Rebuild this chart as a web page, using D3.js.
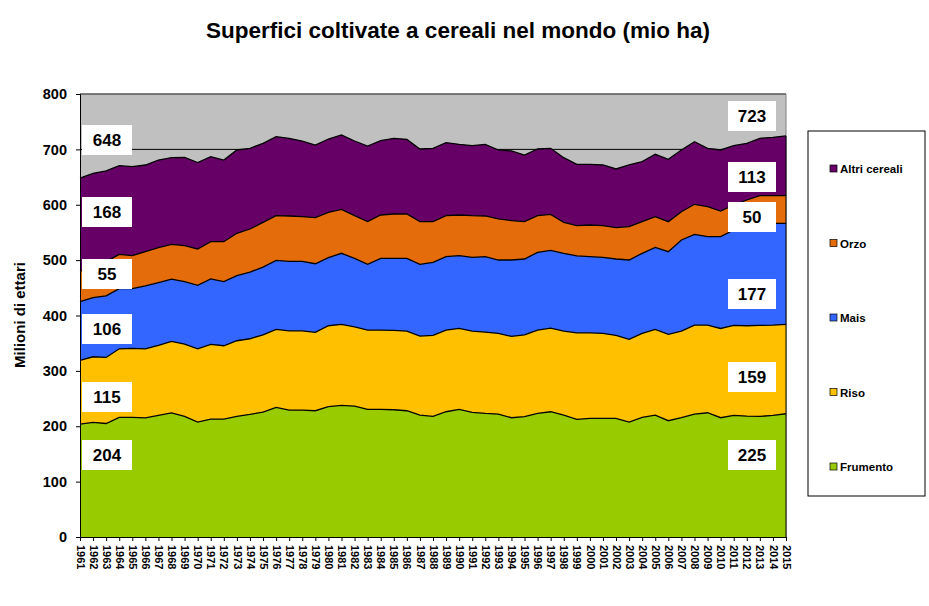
<!DOCTYPE html>
<html><head><meta charset="utf-8">
<script src="https://cdn.jsdelivr.net/npm/d3@7"></script>
<style>
body{margin:0;background:#fff;}
svg text{font-family:Arial,"Liberation Sans",sans-serif;}
</style></head><body>
<svg id="c" width="929" height="606"></svg>
<script>
const years = d3.range(1961, 2016);
const frumento = [204,207,205,216,216,215,219.6,224,218,207.6,213,213,218,221.5,225.6,234,229,229,228,235.3,237.7,236.5,230.4,230.4,229.8,228,220.2,217.8,226.2,230.4,225,223.2,222,215.4,217.2,223.2,226.2,220.2,212.4,214.2,214.2,214.2,207.6,216,220.2,210,215.4,222,224.4,215.4,219.6,218.4,217.8,219.6,222.6];
const riso = [115,118.5,119.3,123.9,124.5,124.9,126.4,129.2,130.4,132.3,134.8,132.4,136.4,136.5,139.6,140.9,143.4,143.4,141.4,146.2,146.2,143.1,143.2,143.2,143.2,143.8,142.6,146.2,147.4,146.2,146.8,146.8,145.6,146.8,148,150.4,151.1,151.6,156.4,154.6,153.4,149.8,149.2,151.6,154.7,155.8,156.4,160.7,158.3,161.2,162.5,163.1,164.3,163.1,161.3];
const mais = [106,106.9,111.1,108.5,107.9,113.6,113.5,112.3,112.6,114.5,118.3,115.9,117.7,120.2,122.3,124.6,125.3,125.3,124.1,122.9,128.4,123.6,118.8,129.6,130.2,131.4,129.6,132,132.6,131.4,133.2,136.2,132.6,138,136.8,140.5,140.4,140.5,138.7,137.4,137.4,138,143.4,144.7,148.2,149.5,164.5,163.9,159.7,165.8,172.3,181.9,183.1,183.7,182.5];
const orzo = [55,55.8,61.8,62.1,59.6,61.8,63,63,65.1,65.7,67.2,72,76.3,78,80.8,80.8,82,80.8,83.2,81.9,79.4,77.1,77.1,78.3,80.1,80.1,77.1,73.5,74.1,73.5,75.3,73.5,74.1,71.1,67.5,66.2,65,56,54.7,57.2,57.2,56.6,60.2,57.2,55.4,54.2,51.2,54.2,54.1,46.3,45.1,45.2,51.2,50,50];
const altri = [168,168.5,163.8,160.1,160.8,156.5,158.3,156.5,159.5,155.9,153.5,147.5,150.5,145.7,142.6,142.7,140.3,136.6,131.2,132.4,134.3,134.8,136.6,134.2,136.7,134.8,131.2,132.4,131.8,127.6,126.4,129.4,124.6,125.8,120.3,120.4,119.2,116.7,110.8,109.6,109.6,106,111.4,108.3,112.6,112.5,111.4,113.1,105.4,110.2,107.2,102.3,103.6,105.3,107.8];
const seriesNames = ["Frumento","Riso","Mais","Orzo","Altri cereali"];
const seriesColors = ["#99CC00","#FFC000","#3366FF","#E46C0A","#660066"];
const yTicks = [0,100,200,300,400,500,600,700,800];
const leftLabels = ["648","168","55","106","115","204"];
const rightLabels = ["723","113","50","177","159","225"];
const titleText = "Superfici coltivate a cereali nel mondo (mio ha)";
const yTitle = "Milioni di ettari";

const table = years.map((y,i)=>({year:y,"Frumento":frumento[i],"Riso":riso[i],"Mais":mais[i],"Orzo":orzo[i],"Altri cereali":altri[i]}));
const svg = d3.select("#c");
const L=80,R=786,T=94,B=537;
const x = d3.scalePoint().domain(years).range([L,R]);
const y = d3.scaleLinear().domain([0,800]).range([B,T]);
const color = d3.scaleOrdinal().domain(seriesNames).range(seriesColors);

svg.append("text").attr("x",458).attr("y",38).attr("text-anchor","middle")
  .style("font-size","22.5px").style("font-weight","bold").text(titleText);

svg.append("rect").attr("x",L).attr("y",T).attr("width",R-L).attr("height",B-T).attr("fill","#C0C0C0");
svg.append("g").selectAll("line").data(yTicks).join("line")
  .attr("x1",L).attr("x2",R).attr("y1",d=>y(d)).attr("y2",d=>y(d)).attr("stroke","#000").attr("stroke-width",1);
svg.append("line").attr("x1",L).attr("x2",R).attr("y1",T).attr("y2",T).attr("stroke","#808080");
svg.append("line").attr("x1",R).attr("x2",R).attr("y1",T).attr("y2",B).attr("stroke","#808080");

const stacked = d3.stack().keys(seriesNames)(table);
const area = d3.area().x(d=>x(d.data.year)).y0(d=>y(d[0])).y1(d=>y(d[1]));
const line = d3.line().x(d=>x(d.data.year)).y(d=>y(d[1]));
svg.append("g").selectAll("path").data(stacked).join("path")
  .attr("d",area).attr("fill",d=>color(d.key));
svg.append("g").selectAll("path").data(stacked).join("path")
  .attr("d",line).attr("fill","none").attr("stroke","#000").attr("stroke-width",1.3);
svg.append("line").attr("x1",R).attr("x2",R).attr("y1",y(d3.sum(seriesNames,k=>table[table.length-1][k]))).attr("y2",B).attr("stroke","#000");

const ya = svg.append("g").attr("transform",`translate(${L},0)`)
  .call(d3.axisLeft(y).tickValues(yTicks).tickSize(4).tickPadding(9));
ya.select(".domain").attr("stroke","#000");
ya.selectAll("text").style("font-size","14.5px").style("font-weight","bold").attr("fill","#000");
const xa = svg.append("g").attr("transform",`translate(0,${B})`)
  .call(d3.axisBottom(x).tickSize(4));
xa.select(".domain").attr("stroke","#000");
xa.selectAll("text").attr("transform","rotate(90)").attr("x",8).attr("y",0).attr("dy","0.35em")
  .attr("text-anchor","start").style("font-size","11px").style("font-weight","bold").attr("fill","#000");

svg.append("text").attr("transform","translate(25,315) rotate(-90)").attr("text-anchor","middle")
  .style("font-size","15px").style("font-weight","bold").text(yTitle);

function boxes(labels, cx, cys, w){
  const g = svg.append("g");
  labels.forEach((t,i)=>{
    g.append("rect").attr("x",cx-w/2).attr("y",cys[i]-15).attr("width",w).attr("height",30).attr("fill","#fff");
    g.append("text").attr("x",cx).attr("y",cys[i]+6).attr("text-anchor","middle")
      .style("font-size","17px").style("font-weight","bold").text(t);
  });
}
boxes(leftLabels,107,[140,212,274,329,397,455],50);
boxes(rightLabels,752,[116,177,217,294,377,455],48);

const lg = svg.append("g");
lg.append("rect").attr("x",808).attr("y",131).attr("width",117).attr("height",365).attr("fill","#fff").attr("stroke","#000");
const legY = d3.scalePoint().domain(seriesNames.slice().reverse()).range([169,467]);
seriesNames.slice().reverse().forEach(n=>{
  lg.append("rect").attr("x",830).attr("y",legY(n)-4).attr("width",7).attr("height",7).attr("fill",color(n)).attr("stroke","#000").attr("stroke-width",0.7);
  lg.append("text").attr("x",840).attr("y",legY(n)+4).style("font-size","11.5px").style("font-weight","bold").text(n);
});
</script></body></html>
